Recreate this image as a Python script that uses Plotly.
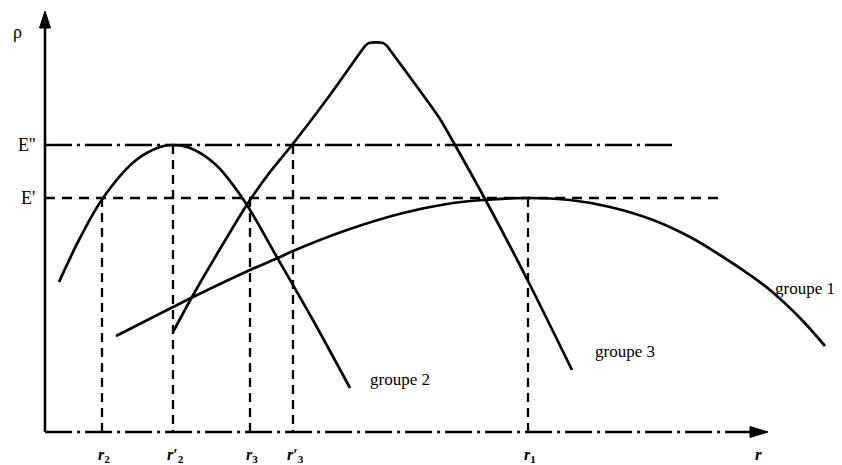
import plotly.graph_objects as go

H = 465  # vertical reference (image height) used to express rho upward

# ---- data (x = r position, y = rho level, pixel-like schematic units) ----
g1_r = [116, 173, 193, 250, 280, 293, 347, 403, 447, 483, 528, 570, 610, 653, 690, 720, 750, 770, 800, 825]
g1_p = [336, 307, 297, 270, 257, 251, 230, 213, 204, 200, 198, 200, 207, 220, 237, 255, 275, 290, 318, 346]

g2_r = [59, 80, 103, 135, 160, 173, 190, 215, 243, 278, 314, 350]
g2_p = [282, 238, 198, 161, 147, 145, 148, 164, 199, 259, 322, 388]

g3_r = [173, 192, 220, 248, 270, 292, 330, 362, 365, 369, 383, 387, 390, 415, 440, 455, 485, 528, 572]
g3_p = [332, 297, 249, 203, 172, 145, 95, 50, 46, 43, 43, 46, 50, 84, 119, 145, 199, 281, 370]

E2_level = 145   # E''
E1_level = 198   # E'
axis_y = 432
axis_x = 45

r_ticks = [102, 173, 250, 293, 528]
r_tops = [E1_level, E2_level, E1_level, E2_level, E1_level]
r_labels = ["<i>r</i><sub>2</sub>", "<i>r</i>′<sub>2</sub>", "<i>r</i><sub>3</sub>",
            "<i>r</i>′<sub>3</sub>", "<i>r</i><sub>1</sub>"]

def Y(v):
    return H - v

fig = go.Figure()

black = "#000000"
serif = "Liberation Serif"

# axes
fig.add_trace(go.Scatter(x=[axis_x, axis_x], y=[Y(axis_y), Y(24)], mode="lines",
                         line=dict(color=black, width=2.6), hoverinfo="skip"))
fig.add_trace(go.Scatter(x=[axis_x - 5.5, axis_x, axis_x + 5.5, axis_x - 5.5],
                         y=[Y(28), Y(11), Y(28), Y(28)], mode="lines", fill="toself",
                         fillcolor=black, line=dict(color=black, width=1), hoverinfo="skip"))
fig.add_trace(go.Scatter(x=[axis_x, 752], y=[Y(axis_y), Y(axis_y)], mode="lines",
                         line=dict(color=black, width=2.6, dash="27px,5px,3px,5px"), hoverinfo="skip"))
fig.add_trace(go.Scatter(x=[750, 768, 750, 750], y=[Y(axis_y - 5.5), Y(axis_y), Y(axis_y + 5.5), Y(axis_y - 5.5)],
                         mode="lines", fill="toself", fillcolor=black,
                         line=dict(color=black, width=1), hoverinfo="skip"))

# reference levels
fig.add_trace(go.Scatter(x=[axis_x, 674], y=[Y(E2_level), Y(E2_level)], mode="lines",
                         line=dict(color=black, width=2.3, dash="27px,5px,3px,5px"), hoverinfo="skip"))
fig.add_trace(go.Scatter(x=[axis_x, 722], y=[Y(E1_level), Y(E1_level)], mode="lines",
                         line=dict(color=black, width=2.3, dash="10px,7px"), hoverinfo="skip"))

# vertical dashed drops
for rx, top in zip(r_ticks, r_tops):
    fig.add_trace(go.Scatter(x=[rx, rx], y=[Y(top), Y(axis_y)], mode="lines",
                             line=dict(color=black, width=2.3, dash="9px,6px"), hoverinfo="skip"))

# curves
for xs, ys, sm in [(g1_r, g1_p, 1.0), (g2_r, g2_p, 1.0), (g3_r, g3_p, 0.7)]:
    fig.add_trace(go.Scatter(x=xs, y=[Y(v) for v in ys], mode="lines",
                             line=dict(color=black, width=2.7, shape="spline", smoothing=sm),
                             hoverinfo="skip"))

ann = []
def txt(x, y, s, size=17, xanchor="center", bold=False):
    ann.append(dict(x=x, y=Y(y), text=("<b>%s</b>" % s) if bold else s, showarrow=False,
                    xanchor=xanchor, yanchor="middle",
                    font=dict(family=serif, size=size, color=black)))

txt(17, 32, "ρ", 18)
txt(37, 145, "E''", 18, xanchor="right")
txt(37, 198, "E'", 18, xanchor="right")
txt(400, 379, "groupe 2", 17)
txt(625, 351, "groupe 3", 17)
txt(805, 288, "groupe 1", 17)
for rx, lab in zip(r_ticks, r_labels):
    txt(rx + 2, 455, lab, 16, bold=True)
txt(758, 454, "<i>r</i>", 17, bold=True)

fig.update_layout(
    width=842, height=465,
    margin=dict(l=0, r=0, t=0, b=0),
    paper_bgcolor="white", plot_bgcolor="white",
    showlegend=False,
    xaxis=dict(range=[0, 842], visible=False, fixedrange=True),
    yaxis=dict(range=[0, 465], visible=False, fixedrange=True),
    annotations=ann,
)

fig.write_html(
    "out.html",
    config={"displayModeBar": False},
    post_script="document.body.style.margin='0';document.body.style.padding='0';document.body.style.overflow='hidden';",
)
